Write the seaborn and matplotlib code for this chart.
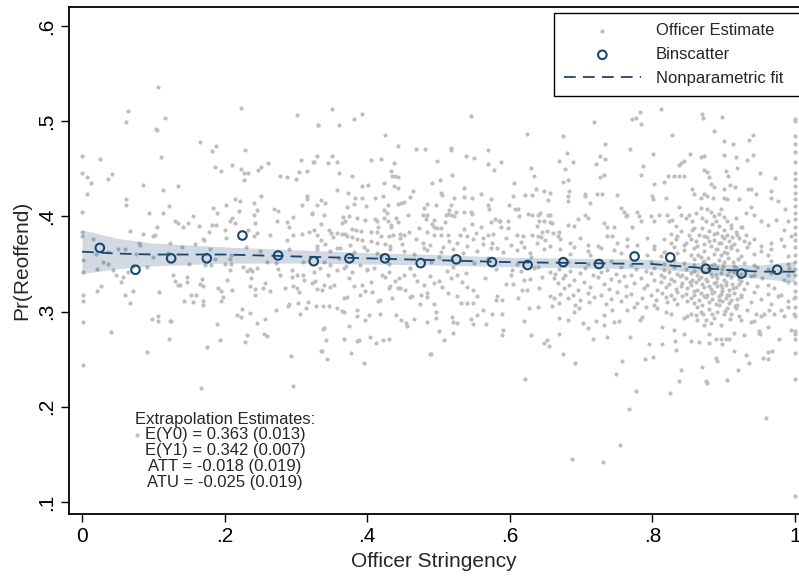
import matplotlib
matplotlib.use("Agg")
import pandas as pd
import matplotlib.pyplot as plt
import seaborn as sns

# --- binscatter (20 bins) ---
bin_x = [0.025, 0.075, 0.125, 0.175, 0.225, 0.275, 0.325, 0.375, 0.425, 0.475,
         0.525, 0.575, 0.625, 0.675, 0.725, 0.775, 0.825, 0.875, 0.925, 0.975]
bin_y = [0.367, 0.344, 0.356, 0.356, 0.380, 0.359, 0.353, 0.356, 0.356, 0.351,
         0.355, 0.352, 0.349, 0.352, 0.350, 0.358, 0.357, 0.345, 0.340, 0.344]

# --- nonparametric fit with confidence band ---
fit_x = [0.00, 0.05, 0.10, 0.20, 0.30, 0.40, 0.50, 0.60, 0.70, 0.80, 0.85, 0.90, 0.95, 1.00]
fit_y = [0.363, 0.361, 0.360, 0.360, 0.358, 0.356, 0.354, 0.352, 0.351, 0.350, 0.347, 0.344, 0.342, 0.342]
fit_lo = [0.340, 0.345, 0.348, 0.351, 0.351, 0.350, 0.349, 0.347, 0.346, 0.345, 0.342, 0.338, 0.335, 0.331]
fit_hi = [0.386, 0.377, 0.372, 0.368, 0.365, 0.362, 0.360, 0.357, 0.356, 0.355, 0.352, 0.350, 0.349, 0.353]

annot_lines = ["Extrapolation Estimates:",
               "E(Y0) = 0.363 (0.013)",
               "E(Y1) = 0.342 (0.007)",
               "ATT = -0.018 (0.019)",
               "ATU = -0.025 (0.019)"]

x_ticks = [0, 0.2, 0.4, 0.6, 0.8, 1.0]
x_ticklabels = ["0", ".2", ".4", ".6", ".8", "1"]
y_ticks = [0.1, 0.2, 0.3, 0.4, 0.5, 0.6]
y_ticklabels = [".1", ".2", ".3", ".4", ".5", ".6"]

# --- officer estimates (stringency, Pr(reoffend)) ---
pts_upper_left = [
    (0.106, 0.536), (0.065, 0.511), (0.062, 0.499), (0.116, 0.503), (0.105, 0.491), (0.104, 0.492),
    (0.223, 0.514), (0.301, 0.507), (0.331, 0.496), (0.165, 0.478), (0.188, 0.474), (0.183, 0.469),
    (0.229, 0.470), (0.000, 0.463), (0.025, 0.460), (0.111, 0.462), (0.000, 0.446), (0.007, 0.441),
    (0.012, 0.435), (0.037, 0.439), (0.042, 0.445), (0.086, 0.433), (0.113, 0.428), (0.134, 0.432),
    (0.007, 0.424), (0.186, 0.452), (0.195, 0.448), (0.210, 0.454), (0.223, 0.450), (0.227, 0.446),
    (0.233, 0.446), (0.227, 0.438), (0.247, 0.449), (0.251, 0.452), (0.261, 0.456), (0.277, 0.442),
    (0.287, 0.441), (0.300, 0.439), (0.304, 0.447), (0.316, 0.448), (0.307, 0.459), (0.324, 0.457),
    (0.062, 0.418), (0.062, 0.412), (0.000, 0.405), (0.094, 0.404), (0.113, 0.404), (0.122, 0.411),
    (0.156, 0.400), (0.131, 0.395), (0.134, 0.393), (0.141, 0.389), (0.184, 0.409), (0.189, 0.404),
    (0.202, 0.412), (0.214, 0.418), (0.221, 0.416), (0.208, 0.395), (0.211, 0.398), (0.220, 0.406),
    (0.241, 0.414), (0.251, 0.421), (0.246, 0.407), (0.241, 0.402), (0.243, 0.393), (0.269, 0.408),
    (0.275, 0.406), (0.273, 0.395), (0.287, 0.394), (0.296, 0.399), (0.291, 0.389), (0.308, 0.412),
    (0.315, 0.421), (0.316, 0.418), (0.322, 0.403), (0.067, 0.385), (0.086, 0.382), (0.099, 0.379),
    (0.105, 0.389), (0.103, 0.381), (0.000, 0.384), (0.000, 0.379), (0.015, 0.376), (0.080, 0.372),
    (0.082, 0.370), (0.124, 0.372), (0.149, 0.393), (0.164, 0.390), (0.178, 0.384), (0.171, 0.375),
    (0.182, 0.391), (0.188, 0.391), (0.200, 0.386), (0.202, 0.377), (0.215, 0.393), (0.233, 0.386),
    (0.241, 0.379), (0.246, 0.383), (0.264, 0.380), (0.288, 0.375), (0.296, 0.380), (0.309, 0.382),
    (0.318, 0.384), (0.158, 0.371), (0.169, 0.376),
]

pts_upper_mid = [
    (0.350, 0.513), (0.331, 0.496), (0.360, 0.496), (0.381, 0.502), (0.392, 0.508), (0.425, 0.486),
    (0.546, 0.505), (0.624, 0.487), (0.443, 0.474), (0.468, 0.471), (0.481, 0.471), (0.518, 0.472),
    (0.518, 0.470), (0.569, 0.470), (0.538, 0.464), (0.550, 0.461), (0.329, 0.464), (0.351, 0.464),
    (0.326, 0.457), (0.345, 0.456), (0.358, 0.457), (0.405, 0.459), (0.419, 0.460), (0.437, 0.456),
    (0.433, 0.448), (0.435, 0.443), (0.439, 0.442), (0.443, 0.441), (0.498, 0.458), (0.519, 0.444),
    (0.570, 0.455), (0.578, 0.449), (0.587, 0.457), (0.630, 0.451), (0.634, 0.443), (0.361, 0.446),
    (0.379, 0.443), (0.606, 0.435), (0.491, 0.435), (0.502, 0.438), (0.423, 0.435), (0.438, 0.432),
    (0.443, 0.430), (0.393, 0.432), (0.401, 0.433), (0.357, 0.428), (0.373, 0.425), (0.464, 0.427),
    (0.460, 0.420), (0.503, 0.425), (0.505, 0.423), (0.536, 0.430), (0.536, 0.420), (0.547, 0.419),
    (0.559, 0.424), (0.574, 0.418), (0.599, 0.412), (0.605, 0.421), (0.622, 0.423), (0.631, 0.423),
    (0.637, 0.429), (0.648, 0.427), (0.657, 0.425), (0.654, 0.417), (0.335, 0.417), (0.341, 0.414),
    (0.329, 0.412), (0.322, 0.404), (0.383, 0.419), (0.392, 0.419), (0.381, 0.413), (0.398, 0.411),
    (0.372, 0.410), (0.411, 0.419), (0.422, 0.421), (0.429, 0.412), (0.424, 0.407), (0.428, 0.404),
    (0.443, 0.413), (0.447, 0.414), (0.452, 0.415), (0.479, 0.409), (0.484, 0.413), (0.497, 0.412),
    (0.517, 0.412), (0.522, 0.419), (0.340, 0.401), (0.366, 0.399), (0.369, 0.395), (0.375, 0.400),
    (0.365, 0.393), (0.385, 0.398), (0.397, 0.396), (0.411, 0.397), (0.414, 0.395), (0.415, 0.389),
    (0.424, 0.398), (0.429, 0.395), (0.433, 0.391), (0.434, 0.389), (0.440, 0.398), (0.443, 0.394),
    (0.457, 0.402), (0.478, 0.401), (0.484, 0.401), (0.482, 0.397), (0.493, 0.396), (0.491, 0.392),
    (0.498, 0.388), (0.510, 0.401), (0.513, 0.403), (0.517, 0.402), (0.522, 0.400), (0.525, 0.405),
    (0.515, 0.407), (0.536, 0.405), (0.545, 0.405), (0.547, 0.403), (0.569, 0.412), (0.571, 0.408),
    (0.573, 0.394), (0.579, 0.397), (0.585, 0.395), (0.607, 0.408), (0.612, 0.408), (0.613, 0.400),
    (0.598, 0.395), (0.625, 0.403), (0.631, 0.401), (0.640, 0.401), (0.642, 0.404), (0.654, 0.402),
    (0.657, 0.402), (0.641, 0.395), (0.648, 0.395), (0.657, 0.394), (0.638, 0.390), (0.326, 0.386),
    (0.330, 0.381), (0.335, 0.392), (0.346, 0.386), (0.349, 0.383), (0.357, 0.383), (0.364, 0.382),
    (0.369, 0.382), (0.378, 0.387), (0.384, 0.386), (0.391, 0.385), (0.371, 0.379), (0.378, 0.378),
    (0.385, 0.376), (0.393, 0.375), (0.406, 0.384), (0.414, 0.384), (0.419, 0.379), (0.430, 0.379),
    (0.436, 0.381), (0.446, 0.382), (0.452, 0.380), (0.459, 0.384), (0.446, 0.377), (0.473, 0.388),
    (0.484, 0.384), (0.494, 0.389), (0.503, 0.388), (0.509, 0.394), (0.513, 0.380), (0.503, 0.381),
    (0.494, 0.380), (0.530, 0.381), (0.536, 0.387), (0.540, 0.379), (0.547, 0.392), (0.553, 0.383),
    (0.559, 0.389), (0.563, 0.377), (0.569, 0.380), (0.577, 0.382), (0.586, 0.395), (0.587, 0.389),
    (0.598, 0.388), (0.610, 0.381), (0.619, 0.379), (0.631, 0.380), (0.640, 0.379), (0.644, 0.378),
    (0.645, 0.384), (0.652, 0.385), (0.659, 0.393), (0.661, 0.383), (0.329, 0.369), (0.341, 0.371),
    (0.357, 0.367), (0.376, 0.370), (0.395, 0.368), (0.414, 0.372), (0.432, 0.369), (0.449, 0.371),
    (0.479, 0.367), (0.488, 0.370), (0.507, 0.368), (0.526, 0.372), (0.540, 0.369), (0.563, 0.371),
    (0.582, 0.367), (0.601, 0.370), (0.620, 0.368), (0.638, 0.372), (0.657, 0.369),
    (0.335, 0.375), (0.352, 0.378), (0.405, 0.374), (0.425, 0.371), (0.468, 0.376), (0.478, 0.372),
    (0.515, 0.374), (0.548, 0.376), (0.575, 0.372), (0.595, 0.377), (0.615, 0.373), (0.650, 0.375),
]

pts_upper_right = [
    (0.812, 0.513), (0.777, 0.503), (0.783, 0.510), (0.771, 0.502), (0.784, 0.497), (0.869, 0.508),
    (0.871, 0.503), (0.897, 0.504), (0.718, 0.499), (0.674, 0.485), (0.828, 0.486), (0.886, 0.490),
    (0.941, 0.486), (0.936, 0.480), (0.733, 0.476), (0.901, 0.479), (0.913, 0.476), (0.768, 0.471),
    (0.801, 0.466), (0.853, 0.466), (0.868, 0.462), (0.873, 0.464), (0.901, 0.465), (0.917, 0.462),
    (0.932, 0.459), (0.941, 0.465), (0.669, 0.458), (0.680, 0.467), (0.677, 0.450), (0.688, 0.457),
    (0.721, 0.455), (0.726, 0.464), (0.733, 0.460), (0.787, 0.453), (0.784, 0.444), (0.837, 0.454),
    (0.844, 0.458), (0.840, 0.456), (0.873, 0.449), (0.877, 0.447), (0.880, 0.441), (0.903, 0.448),
    (0.906, 0.443), (0.918, 0.451), (0.951, 0.446), (0.972, 0.440), (0.732, 0.444), (0.726, 0.441),
    (0.674, 0.436), (0.681, 0.438), (0.822, 0.442), (0.830, 0.443), (0.837, 0.443), (0.845, 0.443),
    (0.802, 0.434), (0.816, 0.436), (0.882, 0.434), (0.887, 0.431), (0.901, 0.429), (0.909, 0.433),
    (0.916, 0.431), (0.683, 0.427), (0.682, 0.422), (0.682, 0.416), (0.706, 0.424), (0.706, 0.421),
    (0.722, 0.424), (0.729, 0.424), (0.751, 0.423), (0.800, 0.421), (0.801, 0.418), (0.819, 0.419),
    (0.855, 0.429), (0.859, 0.424), (0.868, 0.419), (0.873, 0.424), (0.877, 0.421), (0.885, 0.419),
    (0.901, 0.419), (0.905, 0.418), (0.921, 0.418), (0.934, 0.429), (0.938, 0.429), (0.945, 0.424),
    (0.966, 0.427), (0.967, 0.419), (0.976, 0.416), (0.986, 0.408), (0.713, 0.414), (0.706, 0.401),
    (0.709, 0.398), (0.695, 0.397), (0.690, 0.390), (0.681, 0.391), (0.669, 0.384), (0.667, 0.379),
    (0.732, 0.393), (0.737, 0.389), (0.746, 0.389), (0.744, 0.379), (0.756, 0.409), (0.760, 0.405),
    (0.765, 0.402), (0.763, 0.400), (0.772, 0.389), (0.779, 0.405), (0.781, 0.400), (0.784, 0.395),
    (0.798, 0.400), (0.802, 0.395), (0.809, 0.401), (0.821, 0.402), (0.823, 0.395), (0.828, 0.396),
    (0.833, 0.390), (0.837, 0.410), (0.840, 0.402), (0.847, 0.398), (0.852, 0.401), (0.855, 0.395),
    (0.859, 0.388), (0.861, 0.404), (0.868, 0.409), (0.870, 0.398), (0.875, 0.395), (0.877, 0.408),
    (0.882, 0.405), (0.887, 0.400), (0.889, 0.395), (0.894, 0.403), (0.896, 0.408), (0.901, 0.399),
    (0.905, 0.395), (0.910, 0.391), (0.917, 0.398), (0.924, 0.389), (0.931, 0.404), (0.938, 0.410),
    (0.943, 0.402), (0.952, 0.395), (0.962, 0.391), (0.973, 0.396), (0.990, 0.395), (0.985, 0.386),
    (0.671, 0.376), (0.685, 0.372), (0.699, 0.377), (0.709, 0.370), (0.723, 0.369), (0.737, 0.379),
    (0.751, 0.372), (0.765, 0.376), (0.779, 0.370), (0.793, 0.377), (0.802, 0.369), (0.816, 0.376),
    (0.826, 0.372), (0.835, 0.379), (0.845, 0.370), (0.854, 0.376), (0.863, 0.369), (0.873, 0.379),
    (0.880, 0.374), (0.887, 0.382), (0.894, 0.372), (0.901, 0.377), (0.910, 0.369), (0.919, 0.381),
    (0.929, 0.374), (0.943, 0.376), (0.952, 0.369), (0.966, 0.372), (0.980, 0.376), (0.994, 0.379),
]

# officers at stringency 1
pts_edge = [(1.0, v) for v in
            [0.502, 0.500, 0.485, 0.476, 0.468, 0.457, 0.446, 0.439, 0.432, 0.425, 0.418,
             0.411, 0.404, 0.397, 0.389, 0.382, 0.375, 0.368, 0.360, 0.352, 0.345, 0.338,
             0.330, 0.322, 0.315, 0.305, 0.295, 0.280, 0.277, 0.271, 0.257, 0.229, 0.106]]

pts_lower_left = [
    (0.001, 0.354), (0.001, 0.342), (0.021, 0.345), (0.037, 0.350), (0.043, 0.344), (0.047, 0.338),
    (0.057, 0.336), (0.055, 0.331), (0.064, 0.342), (0.072, 0.348), (0.076, 0.361), (0.026, 0.327),
    (0.021, 0.322), (0.001, 0.317), (0.001, 0.311), (0.060, 0.317), (0.068, 0.309), (0.072, 0.322),
    (0.091, 0.347), (0.108, 0.321), (0.001, 0.289), (0.040, 0.279), (0.001, 0.244), (0.091, 0.258),
    (0.098, 0.292), (0.106, 0.290), (0.107, 0.295), (0.125, 0.290), (0.122, 0.271), (0.127, 0.339),
    (0.131, 0.332), (0.135, 0.328), (0.138, 0.328), (0.147, 0.336), (0.147, 0.331), (0.143, 0.311),
    (0.153, 0.317), (0.160, 0.317), (0.155, 0.310), (0.169, 0.311), (0.170, 0.307), (0.165, 0.329),
    (0.169, 0.327), (0.168, 0.334), (0.176, 0.263), (0.167, 0.220), (0.190, 0.287), (0.194, 0.270),
    (0.191, 0.325), (0.195, 0.322), (0.198, 0.315), (0.195, 0.311), (0.203, 0.333), (0.211, 0.323),
    (0.207, 0.355), (0.209, 0.350), (0.208, 0.344), (0.226, 0.347), (0.232, 0.343), (0.235, 0.345),
    (0.238, 0.343), (0.245, 0.346), (0.237, 0.335), (0.235, 0.327), (0.243, 0.324), (0.243, 0.317),
    (0.257, 0.330), (0.254, 0.325), (0.264, 0.322), (0.224, 0.303), (0.218, 0.296), (0.223, 0.294),
    (0.235, 0.299), (0.246, 0.288), (0.256, 0.292), (0.231, 0.275), (0.228, 0.268), (0.255, 0.276),
    (0.260, 0.274), (0.272, 0.302), (0.284, 0.325), (0.289, 0.306), (0.291, 0.308), (0.296, 0.327),
    (0.301, 0.325), (0.305, 0.321), (0.303, 0.309), (0.306, 0.298), (0.314, 0.304), (0.317, 0.310),
    (0.295, 0.344), (0.302, 0.339), (0.295, 0.336), (0.310, 0.339), (0.312, 0.333), (0.323, 0.330),
    (0.293, 0.253), (0.296, 0.222), (0.272, 0.351), (0.277, 0.339), (0.275, 0.345), (0.181, 0.349),
    (0.187, 0.355), (0.172, 0.349), (0.209, 0.360), (0.019, 0.361), (0.036, 0.363), (0.050, 0.366),
    (0.030, 0.352), (0.100, 0.357), (0.120, 0.362), (0.150, 0.350), (0.180, 0.366), (0.200, 0.350),
    (0.250, 0.364), (0.260, 0.352), (0.290, 0.366), (0.310, 0.352), (0.140, 0.368), (0.230, 0.368),
    (0.060, 0.366), (0.077, 0.170), (0.124, 0.290),
]

pts_lower_mid = [
    (0.339, 0.283), (0.342, 0.270), (0.336, 0.259), (0.343, 0.250), (0.367, 0.271), (0.377, 0.257),
    (0.374, 0.285), (0.386, 0.269), (0.389, 0.270), (0.395, 0.246), (0.404, 0.273), (0.412, 0.267),
    (0.422, 0.270), (0.430, 0.271), (0.488, 0.255), (0.508, 0.270), (0.521, 0.278), (0.501, 0.280),
    (0.622, 0.229), (0.589, 0.275), (0.591, 0.281), (0.620, 0.290), (0.630, 0.275), (0.648, 0.267),
    (0.655, 0.264), (0.652, 0.270), (0.335, 0.259), (0.338, 0.282), (0.489, 0.255),
    (0.328, 0.306), (0.338, 0.306), (0.347, 0.306), (0.329, 0.324), (0.327, 0.332), (0.336, 0.323),
    (0.339, 0.328), (0.348, 0.326), (0.353, 0.328), (0.357, 0.304), (0.364, 0.301), (0.367, 0.300),
    (0.368, 0.314), (0.372, 0.315), (0.386, 0.302), (0.386, 0.295), (0.397, 0.291), (0.402, 0.296),
    (0.418, 0.297), (0.435, 0.314), (0.440, 0.296), (0.447, 0.291), (0.455, 0.288), (0.456, 0.285),
    (0.466, 0.292), (0.390, 0.318), (0.381, 0.327), (0.393, 0.328), (0.397, 0.322), (0.407, 0.321),
    (0.418, 0.312), (0.415, 0.311), (0.430, 0.325), (0.432, 0.327), (0.439, 0.332), (0.443, 0.325),
    (0.446, 0.325), (0.453, 0.323), (0.463, 0.316), (0.460, 0.315), (0.476, 0.317), (0.484, 0.320),
    (0.484, 0.315), (0.474, 0.308), (0.494, 0.308), (0.496, 0.300), (0.497, 0.293), (0.484, 0.289),
    (0.514, 0.320), (0.526, 0.316), (0.532, 0.309), (0.540, 0.309), (0.549, 0.309), (0.545, 0.292),
    (0.549, 0.287), (0.554, 0.296), (0.563, 0.302), (0.566, 0.287), (0.575, 0.297), (0.582, 0.316),
    (0.580, 0.312), (0.589, 0.312), (0.589, 0.297), (0.521, 0.289), (0.526, 0.288), (0.519, 0.294),
    (0.554, 0.316), (0.548, 0.323), (0.540, 0.326), (0.533, 0.331), (0.526, 0.339), (0.517, 0.335),
    (0.512, 0.343), (0.500, 0.332), (0.493, 0.330), (0.488, 0.337), (0.479, 0.328), (0.470, 0.332),
    (0.460, 0.346), (0.451, 0.339), (0.444, 0.335), (0.430, 0.342), (0.421, 0.339), (0.409, 0.346),
    (0.400, 0.344), (0.390, 0.349), (0.379, 0.342), (0.367, 0.346), (0.357, 0.344), (0.348, 0.349),
    (0.334, 0.346), (0.325, 0.342), (0.601, 0.339), (0.605, 0.329), (0.603, 0.344), (0.617, 0.323),
    (0.620, 0.333), (0.629, 0.334), (0.641, 0.325), (0.657, 0.316), (0.662, 0.314), (0.659, 0.306),
    (0.657, 0.342), (0.662, 0.335), (0.612, 0.314), (0.624, 0.323), (0.627, 0.304), (0.639, 0.305),
    (0.634, 0.346), (0.329, 0.366), (0.348, 0.364), (0.362, 0.367), (0.381, 0.363), (0.400, 0.365),
    (0.414, 0.362), (0.432, 0.366), (0.451, 0.364), (0.465, 0.361), (0.484, 0.365), (0.503, 0.363),
    (0.521, 0.366), (0.535, 0.362), (0.554, 0.364), (0.573, 0.367), (0.591, 0.363), (0.610, 0.365),
    (0.629, 0.362), (0.648, 0.366), (0.340, 0.352), (0.370, 0.348), (0.400, 0.345), (0.430, 0.350),
    (0.460, 0.346), (0.490, 0.352), (0.520, 0.347), (0.550, 0.351), (0.580, 0.345), (0.610, 0.350),
    (0.640, 0.347), (0.360, 0.356), (0.420, 0.358), (0.500, 0.357), (0.570, 0.356), (0.630, 0.357),
    (0.345, 0.338), (0.375, 0.335), (0.405, 0.331), (0.425, 0.336), (0.465, 0.339), (0.505, 0.326),
    (0.538, 0.341), (0.565, 0.335), (0.595, 0.329), (0.615, 0.343), (0.645, 0.336),
]

pts_lower_right = [
    (0.777, 0.217), (0.824, 0.215), (0.749, 0.235), (0.758, 0.248), (0.692, 0.246), (0.674, 0.256),
    (0.790, 0.250), (0.801, 0.252), (0.837, 0.227), (0.840, 0.239), (0.869, 0.242), (0.875, 0.227),
    (0.877, 0.225), (0.905, 0.228), (0.920, 0.239), (0.890, 0.248), (0.889, 0.251), (0.915, 0.259),
    (0.931, 0.254), (0.936, 0.246), (0.955, 0.251), (0.962, 0.250), (0.962, 0.258), (0.968, 0.259),
    (0.687, 0.145), (0.731, 0.142), (0.754, 0.160), (0.767, 0.198), (0.959, 0.188),
    (0.669, 0.276), (0.716, 0.271), (0.737, 0.273), (0.769, 0.273), (0.795, 0.266), (0.813, 0.266),
    (0.833, 0.260), (0.831, 0.269), (0.845, 0.277), (0.854, 0.269), (0.866, 0.268), (0.879, 0.267),
    (0.880, 0.276), (0.889, 0.271), (0.896, 0.271), (0.897, 0.266), (0.903, 0.271), (0.908, 0.271),
    (0.915, 0.278), (0.928, 0.275), (0.950, 0.278), (0.951, 0.276), (0.943, 0.290), (0.962, 0.284),
    (0.978, 0.271), (0.995, 0.281), (0.669, 0.293), (0.681, 0.291), (0.690, 0.300), (0.697, 0.304),
    (0.702, 0.288), (0.709, 0.283), (0.721, 0.290), (0.732, 0.286), (0.732, 0.296), (0.746, 0.289),
    (0.753, 0.290), (0.744, 0.302), (0.765, 0.302), (0.774, 0.305), (0.783, 0.291), (0.785, 0.294),
    (0.791, 0.305), (0.807, 0.304), (0.813, 0.284), (0.819, 0.300), (0.826, 0.297), (0.830, 0.281),
    (0.845, 0.293), (0.849, 0.295), (0.854, 0.298), (0.861, 0.296), (0.863, 0.291), (0.868, 0.300),
    (0.873, 0.286), (0.875, 0.291), (0.882, 0.288), (0.884, 0.297), (0.891, 0.300), (0.896, 0.286),
    (0.901, 0.297), (0.905, 0.304), (0.910, 0.298), (0.917, 0.304), (0.922, 0.295), (0.924, 0.291),
    (0.933, 0.302), (0.938, 0.289), (0.945, 0.297), (0.950, 0.280), (0.952, 0.295), (0.957, 0.298),
    (0.964, 0.302), (0.971, 0.297), (0.980, 0.302), (0.990, 0.305), (0.985, 0.295), (0.999, 0.297),
]

# dense cloud around the fit, right part
pts_cloud = [
    (0.671, 0.366), (0.690, 0.368), (0.709, 0.364), (0.728, 0.367), (0.746, 0.365), (0.765, 0.369),
    (0.802, 0.366), (0.816, 0.363), (0.830, 0.368), (0.845, 0.365), (0.859, 0.367), (0.873, 0.364),
    (0.882, 0.369), (0.891, 0.366), (0.901, 0.363), (0.910, 0.367), (0.919, 0.365), (0.933, 0.368),
    (0.952, 0.364), (0.966, 0.366), (0.985, 0.369),
    (0.685, 0.361), (0.713, 0.359), (0.756, 0.362), (0.793, 0.360), (0.812, 0.358), (0.835, 0.362),
    (0.854, 0.360), (0.868, 0.357), (0.887, 0.361), (0.896, 0.359), (0.905, 0.362), (0.924, 0.358),
    (0.943, 0.361), (0.962, 0.360), (0.990, 0.358),
    (0.681, 0.352), (0.709, 0.350), (0.742, 0.353), (0.770, 0.349), (0.798, 0.352), (0.816, 0.350),
    (0.830, 0.354), (0.845, 0.351), (0.859, 0.349), (0.873, 0.353), (0.887, 0.350), (0.901, 0.352),
    (0.915, 0.348), (0.929, 0.351), (0.943, 0.349), (0.966, 0.353), (0.990, 0.350),
    (0.669, 0.345), (0.685, 0.343), (0.706, 0.346), (0.737, 0.344), (0.756, 0.347), (0.777, 0.345),
    (0.791, 0.343), (0.802, 0.346), (0.816, 0.344), (0.830, 0.347), (0.847, 0.345), (0.859, 0.343),
    (0.868, 0.346), (0.880, 0.344), (0.891, 0.347), (0.898, 0.345), (0.908, 0.343), (0.917, 0.346),
    (0.931, 0.344), (0.947, 0.347), (0.962, 0.345), (0.980, 0.343), (0.992, 0.346),
    (0.664, 0.340), (0.678, 0.338), (0.699, 0.341), (0.716, 0.339), (0.728, 0.342), (0.749, 0.340),
    (0.770, 0.338), (0.798, 0.341), (0.812, 0.339), (0.823, 0.342), (0.835, 0.340), (0.842, 0.338),
    (0.854, 0.341), (0.863, 0.339), (0.873, 0.342), (0.882, 0.340), (0.889, 0.338), (0.896, 0.341),
    (0.905, 0.339), (0.915, 0.342), (0.924, 0.340), (0.943, 0.338), (0.966, 0.341), (0.990, 0.339),
    (0.674, 0.335), (0.690, 0.333), (0.723, 0.336), (0.742, 0.334), (0.760, 0.337), (0.784, 0.335),
    (0.802, 0.333), (0.816, 0.336), (0.826, 0.334), (0.838, 0.337), (0.847, 0.335), (0.856, 0.333),
    (0.868, 0.336), (0.875, 0.334), (0.884, 0.337), (0.891, 0.335), (0.901, 0.333), (0.910, 0.336),
    (0.922, 0.334), (0.938, 0.337), (0.954, 0.335), (0.985, 0.333),
    (0.667, 0.330), (0.683, 0.328), (0.704, 0.331), (0.732, 0.329), (0.753, 0.332), (0.774, 0.330),
    (0.793, 0.328), (0.812, 0.331), (0.823, 0.329), (0.830, 0.332), (0.842, 0.330), (0.854, 0.328),
    (0.861, 0.331), (0.870, 0.329), (0.877, 0.332), (0.887, 0.330), (0.896, 0.328), (0.903, 0.331),
    (0.912, 0.329), (0.924, 0.332), (0.933, 0.330), (0.962, 0.328), (0.990, 0.331),
    (0.676, 0.325), (0.695, 0.323), (0.713, 0.326), (0.739, 0.324), (0.763, 0.327), (0.788, 0.325),
    (0.807, 0.323), (0.819, 0.326), (0.833, 0.324), (0.840, 0.327), (0.849, 0.325), (0.863, 0.323),
    (0.873, 0.326), (0.882, 0.324), (0.891, 0.327), (0.898, 0.325), (0.908, 0.323), (0.917, 0.326),
    (0.929, 0.324), (0.947, 0.327), (0.971, 0.325),
    (0.671, 0.319), (0.688, 0.317), (0.709, 0.320), (0.728, 0.318), (0.751, 0.321), (0.770, 0.319),
    (0.798, 0.317), (0.814, 0.320), (0.826, 0.318), (0.835, 0.321), (0.847, 0.319), (0.859, 0.317),
    (0.868, 0.320), (0.877, 0.318), (0.887, 0.321), (0.896, 0.319), (0.905, 0.317), (0.915, 0.320),
    (0.924, 0.318), (0.943, 0.321), (0.962, 0.319), (0.980, 0.317),
    (0.681, 0.314), (0.699, 0.312), (0.718, 0.315), (0.742, 0.313), (0.763, 0.316), (0.786, 0.314),
    (0.805, 0.312), (0.819, 0.315), (0.830, 0.313), (0.842, 0.316), (0.854, 0.314), (0.866, 0.312),
    (0.875, 0.315), (0.884, 0.313), (0.894, 0.316), (0.903, 0.314), (0.910, 0.312), (0.924, 0.315),
    (0.952, 0.313), (0.976, 0.316), (0.999, 0.314),
    (0.669, 0.309), (0.692, 0.307), (0.711, 0.310), (0.735, 0.308), (0.756, 0.311), (0.779, 0.309),
    (0.802, 0.307), (0.821, 0.310), (0.835, 0.308), (0.849, 0.311), (0.859, 0.309), (0.870, 0.307),
    (0.880, 0.310), (0.889, 0.308), (0.898, 0.311), (0.908, 0.309), (0.919, 0.307), (0.938, 0.310),
    (0.966, 0.308), (0.990, 0.311),
]

# the thickest clump, stringency about .83 to .94
pts_blob = [
    (0.826, 0.382), (0.833, 0.376), (0.840, 0.385), (0.847, 0.372), (0.852, 0.380), (0.856, 0.386),
    (0.861, 0.374), (0.866, 0.381), (0.870, 0.388), (0.873, 0.371), (0.877, 0.378), (0.880, 0.385),
    (0.884, 0.392), (0.887, 0.375), (0.889, 0.366), (0.891, 0.383), (0.894, 0.390), (0.896, 0.372),
    (0.898, 0.379), (0.901, 0.386), (0.903, 0.368), (0.905, 0.381), (0.908, 0.374), (0.910, 0.388),
    (0.912, 0.378), (0.915, 0.371), (0.917, 0.384), (0.922, 0.377), (0.926, 0.389), (0.931, 0.381),
    (0.936, 0.372), (0.858, 0.355), (0.864, 0.359), (0.871, 0.352), (0.878, 0.356), (0.884, 0.349),
    (0.893, 0.354), (0.899, 0.348), (0.906, 0.356), (0.913, 0.352), (0.920, 0.355), (0.853, 0.331),
    (0.858, 0.322), (0.866, 0.334), (0.872, 0.316), (0.879, 0.327), (0.884, 0.320), (0.889, 0.331),
    (0.893, 0.312), (0.898, 0.322), (0.903, 0.328), (0.908, 0.318), (0.913, 0.325), (0.918, 0.313),
    (0.921, 0.329), (0.862, 0.305), (0.871, 0.298), (0.879, 0.303), (0.886, 0.293), (0.894, 0.307),
    (0.902, 0.301), (0.909, 0.292), (0.916, 0.306),
]

officers = pd.DataFrame(
    pts_upper_left + pts_upper_mid + pts_upper_right + pts_edge
    + pts_lower_left + pts_lower_mid + pts_lower_right + pts_cloud + pts_blob,
    columns=["stringency", "reoffend"])
fit = pd.DataFrame({"stringency": fit_x, "fit": fit_y, "lo": fit_lo, "hi": fit_hi})
bins = pd.DataFrame({"stringency": bin_x, "reoffend": bin_y})

sns.set_style("white")
plt.rcParams["font.family"] = ["Liberation Sans", "DejaVu Sans"]

navy = "#1a476f"
fig = plt.figure(figsize=(7.99, 5.76), dpi=100)
ax = fig.add_axes([0.0864, 0.1076, 0.9136, 0.8802])

sns.scatterplot(data=officers, x="stringency", y="reoffend", color="#bebebe",
                s=9, linewidth=0, ax=ax, label="Officer Estimate", zorder=1)
ax.fill_between(fit["stringency"], fit["lo"], fit["hi"], color=navy, alpha=0.2,
                linewidth=0, zorder=2)
sns.lineplot(data=fit, x="stringency", y="fit", color=navy, lw=1.3,
             linestyle=(0, (6.5, 4)), label="Nonparametric fit", ax=ax, zorder=3)
sns.scatterplot(data=bins, x="stringency", y="reoffend", color=navy, facecolors="none",
                edgecolor=navy, linewidth=1.5, s=38, ax=ax, label="Binscatter", zorder=4)

ax.set_xlim(-0.0182, 1.0056)
ax.set_ylim(0.0874, 0.62)
ax.set_xticks(x_ticks)
ax.set_xticklabels(x_ticklabels)
ax.set_yticks(y_ticks)
ax.set_yticklabels(y_ticklabels, rotation=90, va="center")
ax.tick_params(axis="both", labelsize=15, length=6, width=1, direction="out",
               color="black", labelcolor="black", bottom=True, left=True)
ax.set_xlabel("Officer Stringency", fontsize=15, labelpad=4)
ax.set_ylabel("Pr(Reoffend)", fontsize=15, labelpad=4)
for side in ["left", "bottom", "top"]:
    ax.spines[side].set_color("black")
    ax.spines[side].set_linewidth(1.3)
ax.spines["right"].set_visible(False)

ax.text(0.2006, 0.154, "\n".join(annot_lines), ha="center", va="center",
        fontsize=12, linespacing=1.06)

handles, labels = ax.get_legend_handles_labels()
order = [labels.index(l) for l in ["Officer Estimate", "Binscatter", "Nonparametric fit"]]
leg = ax.legend([handles[i] for i in order], [labels[i] for i in order],
                loc="upper left", bbox_to_anchor=(554 / 799, 1 - 103 / 576, 0.32, 90 / 576),
                bbox_transform=fig.transFigure, mode="expand", borderaxespad=0, fontsize=12,
                frameon=True, fancybox=False, framealpha=1, edgecolor="black",
                handlelength=4.6, handletextpad=0.9, labelspacing=0.55, borderpad=0.6)
leg.get_frame().set_linewidth(1.0)

fig.savefig("out.png", dpi=100)
